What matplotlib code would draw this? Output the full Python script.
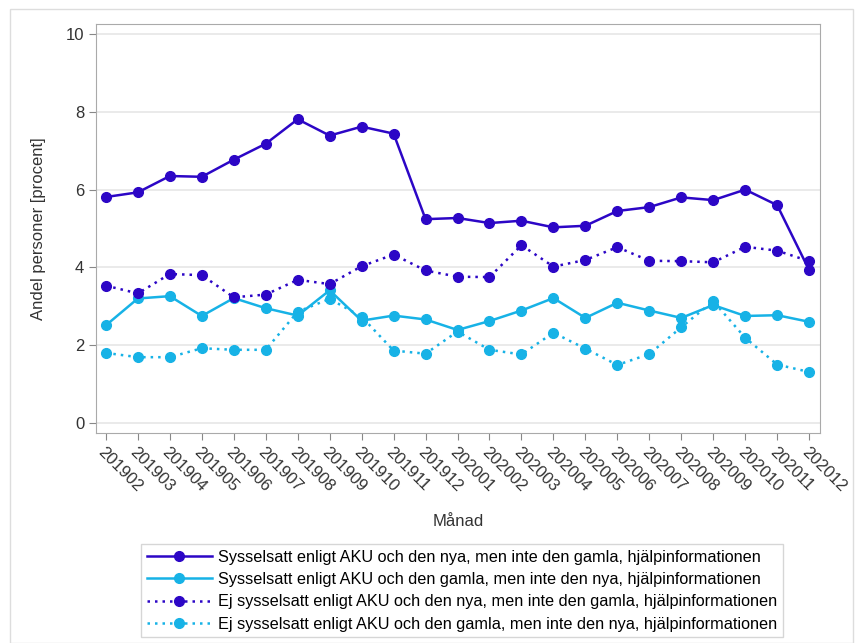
import matplotlib
matplotlib.use("Agg")
import matplotlib.pyplot as plt
from matplotlib.patches import Rectangle

plt.rcParams['font.family'] = ['Liberation Sans', 'DejaVu Sans']

months = ['201902', '201903', '201904', '201905', '201906', '201907', '201908',
          '201909', '201910', '201911', '201912', '202001', '202002', '202003',
          '202004', '202005', '202006', '202007', '202008', '202009', '202010',
          '202011', '202012']

syss_nya = [5.81, 5.93, 6.35, 6.33, 6.77, 7.18, 7.81, 7.39, 7.62, 7.44, 5.24, 5.27,
            5.14, 5.20, 5.03, 5.07, 5.45, 5.55, 5.80, 5.73, 6.00, 5.60, 3.93]
syss_gamla = [2.51, 3.20, 3.26, 2.75, 3.21, 2.95, 2.76, 3.41, 2.63, 2.76, 2.66, 2.39,
              2.62, 2.89, 3.21, 2.70, 3.09, 2.89, 2.70, 3.03, 2.75, 2.77, 2.60]
ej_nya = [3.53, 3.33, 3.83, 3.80, 3.23, 3.30, 3.68, 3.57, 4.03, 4.33, 3.92, 3.76,
          3.75, 4.57, 4.02, 4.19, 4.52, 4.17, 4.16, 4.13, 4.53, 4.43, 4.16]
ej_gamla = [1.80, 1.69, 1.69, 1.92, 1.88, 1.88, 2.86, 3.19, 2.73, 1.86, 1.78, 2.35,
            1.88, 1.76, 2.32, 1.91, 1.49, 1.77, 2.46, 3.13, 2.19, 1.50, 1.31]

labels = [
    'Sysselsatt enligt AKU och den nya, men inte den gamla, hjälpinformationen',
    'Sysselsatt enligt AKU och den gamla, men inte den nya, hjälpinformationen',
    'Ej sysselsatt enligt AKU och den nya, men inte den gamla, hjälpinformationen',
    'Ej sysselsatt enligt AKU och den gamla, men inte den nya, hjälpinformationen',
]

dark = '#2C06C6'
cyan = '#17B2E6'
dots = (0, (1, 2))

fig = plt.figure(figsize=(8.63, 6.43), dpi=100)
ax = fig.add_axes([96 / 863, 1 - 433 / 643, (820 - 96) / 863, (433 - 24) / 643])

x = list(range(len(months)))
ax.plot(x, syss_nya, color=dark, lw=1.8, marker='o', ms=7, label=labels[0])
ax.plot(x, syss_gamla, color=cyan, lw=1.8, marker='o', ms=7, label=labels[1])
ax.plot(x, ej_nya, color=dark, lw=1.8, ls=dots, marker='o', ms=7, label=labels[2])
ax.plot(x, ej_gamla, color=cyan, lw=1.8, ls=dots, marker='o', ms=7, label=labels[3])

ax.set_xlim(-0.31, 22.34)
ax.set_ylim(-0.26, 10.26)
ax.set_yticks([0, 2, 4, 6, 8, 10])
ax.set_xticks(x)
ax.set_xticklabels(months, rotation=-45, ha='left', va='top',
                   rotation_mode='anchor', fontsize=12, color='#333333')
ax.tick_params(axis='y', labelsize=12, labelcolor='#333333', color='#888888', length=5)
ax.tick_params(axis='x', color='#888888', length=5)
ax.grid(axis='y', color='#e6e6e6', lw=1.2)
ax.set_axisbelow(True)
for s in ax.spines.values():
    s.set_color('#aaaaaa')

ax.set_xlabel('Månad', fontsize=12, color='#333333', labelpad=14)
ax.set_ylabel('Andel personer [procent]', fontsize=12, color='#333333', labelpad=14)

leg = fig.legend(loc='upper center', bbox_to_anchor=(462 / 863, 1 - 544 / 643),
                 fontsize=11.7, frameon=True, fancybox=False, handlelength=4,
                 borderpad=0.35, labelspacing=0.45, handletextpad=0.4,
                 borderaxespad=0)
leg.get_frame().set_edgecolor('#cccccc')
leg.get_frame().set_linewidth(1)

fig.patches.append(Rectangle((10 / 863, 0), (853 - 10) / 863, 1 - 9 / 643,
                             transform=fig.transFigure, fill=False,
                             edgecolor='#dddddd', lw=1))

fig.savefig('out.png', dpi=100)
